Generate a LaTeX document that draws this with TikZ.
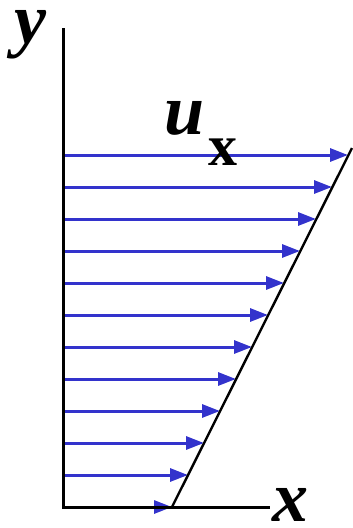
\documentclass[tikz,border=0pt]{standalone}
\usepackage{fontspec}
\setmainfont{Liberation Serif}
\usetikzlibrary{positioning, arrows.meta}

\begin{document}
\begin{tikzpicture}[x=1pt, y=-1pt,
    axis/.style={line width=3pt},
    flow/.style={draw={rgb,255:red,51;green,51;blue,204}, line width=3pt,
                 -{Triangle[length=18pt,width=13pt]}},
    lbl/.style={inner sep=0pt, anchor=base, text height=0.47em, text depth=0.22em,
                font=\fontsize{72}{72}\selectfont\bfseries\itshape}]
    \useasboundingbox (0,0) rectangle (353,528);
    % Velocity profile
    \foreach \i in {0,...,11} {
        \coordinate (s\i) at (63,{507-32*\i});
        \coordinate (e\i) at ({172+16*\i},{507-32*\i});
        \draw[flow] (s\i) -- (e\i);
    }
    % Axes
    \coordinate (origin) at (63,507);
    \coordinate (ytop) at (63,28);
    \coordinate (xend) at (270,507);
    \draw[axis] (ytop) -- (origin) -- (xend);
    % Profile line
    \coordinate (foot) at (172,507);
    \coordinate (head) at (352,148);
    \draw[line width=2.4pt] (foot) -- (head);
    % Labels
    \node[lbl] (ylab) at (30,43) {y};
    \node[lbl, text depth=0.05em] (xlab) at (290,521) {x};
    \node[lbl] (ulab) at (185,134) {u};
    \node[inner sep=0pt, anchor=base, text height=0.47em,
          font=\fontsize{58}{58}\selectfont\bfseries] (sub) at (223,165) {x};
\end{tikzpicture}
\end{document}
